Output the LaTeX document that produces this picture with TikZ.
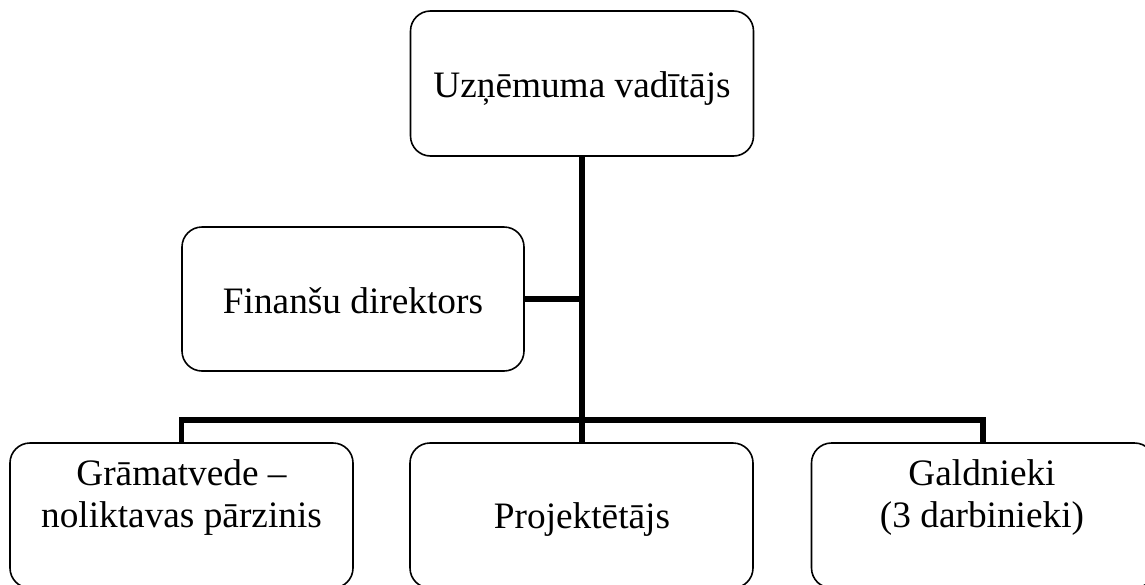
\documentclass[tikz,border=0pt]{standalone}
\usepackage{fontspec}
\setmainfont{Liberation Serif}
\begin{document}
\begin{tikzpicture}[x=1pt,y=-1pt,
  box/.style={draw=black, line width=1.6pt, rounded corners=20pt, minimum width=343pt, minimum height=145pt, inner sep=0pt, fill=white},
  txt/.style={inner sep=0pt, anchor=base, font=\fontsize{37.3}{42}\selectfont},
  conn/.style={line width=5.5pt, line join=miter, line cap=rect}]
\useasboundingbox (0,0) rectangle (1145,584);
\clip (0,0) rectangle (1145,584);
\fill[white] (0,0) rectangle (1145,584);
% connectors first
\coordinate (bar) at (582,420);
\coordinate (topc) at (582,156);
\coordinate (projc) at (582,443);
\coordinate (gramc) at (181.5,443);
\coordinate (galdc) at (983,443);
\coordinate (finc) at (524,299);
\draw[conn] (topc) -- (projc);
\draw[conn] (gramc) |- (bar) -| (galdc);
\draw[conn] (finc) -- (finc -| topc);
% boxes
\node[box] (top) at (582,83.5) {};
\node[box, minimum height=144pt, minimum width=342pt] (fin) at (353,299) {};
\node[box] (gram) at (181.5,515.5) {};
\node[box] (proj) at (581.5,515.5) {};
\node[box] (gald) at (983,515.5) {};
% texts
\node[txt] (t1) at (582,97) {Uzņēmuma vadītājs};
\node[txt] (t2) at (353,313) {Finanšu direktors};
\node[txt] (t3a) at (181.5,485) {Grāmatvede –};
\node[txt] (t3b) at (181.5,527) {noliktavas pārzinis};
\node[txt] (t4) at (582,528) {Projektētājs};
\node[txt] (t5a) at (982,485) {Galdnieki};
\node[txt] (t5b) at (982,527) {(3 darbinieki)};
\end{tikzpicture}
\end{document}
